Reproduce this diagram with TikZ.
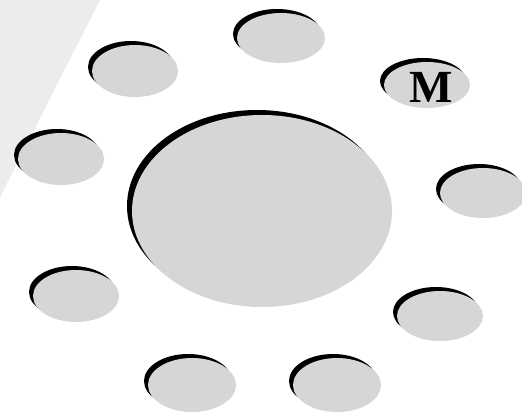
\documentclass[tikz,border=0pt]{standalone}
\usepackage{fontspec}
\setmainfont{Liberation Serif}
\definecolor{bgpoly}{HTML}{ECECEC}
\definecolor{discfill}{HTML}{D6D6D6}
\tikzset{
  disc/.style={fill=discfill, draw=none},
  discshadow/.style={fill=black, draw=none}
}
\begin{document}
\begin{tikzpicture}[x=1pt,y=-1pt]
\useasboundingbox (0,0) rectangle (522,412);
\fill[bgpoly] (0,0) -- (100,0) -- (0,197) -- cycle;
% big disc
\fill[discshadow] (257,206) ellipse [x radius=130, y radius=96];
\fill[disc] (262,211) ellipse [x radius=130, y radius=96];
% small discs: centre x, y, rx, ry
\foreach \cx/\cy/\rx/\ry in {281/38/44/25, 135/71/43/26, 61/159/43/26, 483/193/43/25, 76/296/43/26, 440/316/43/25, 192/385/44/27, 337/385/44/27, 427/85/43/23}{
  \fill[discshadow] (\cx-4,\cy-4) ellipse [x radius=\rx, y radius=\ry];
  \fill[disc] (\cx,\cy) ellipse [x radius=\rx, y radius=\ry];
}
\node[font=\fontsize{46}{46}\selectfont\bfseries, inner sep=0pt] (m) at (431,87) {M};
\end{tikzpicture}
\end{document}
